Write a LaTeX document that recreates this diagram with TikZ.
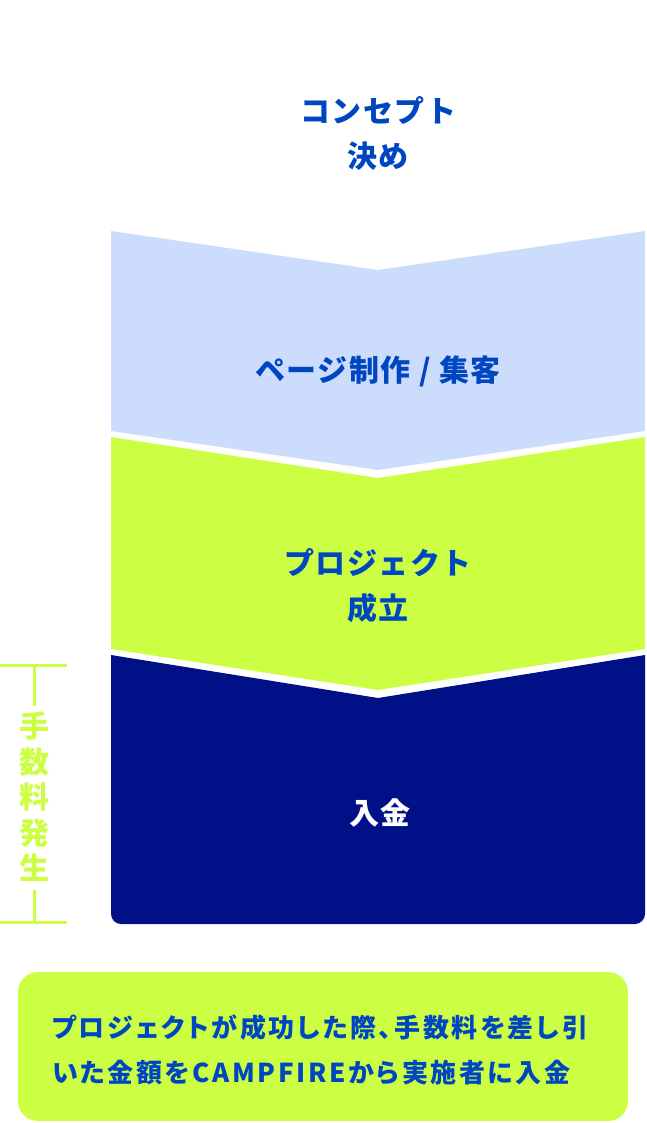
\documentclass[tikz,border=0pt]{standalone}
\usepackage{fontspec}
\usepackage{xcolor}
\usetikzlibrary{positioning}
\newfontfamily\jpfont{Noto Sans CJK JP}[LetterSpace=5]
\newfontfamily\notefont{Noto Sans CJK JP}[LetterSpace=10, RawFeature=+palt]
\definecolor{stepblue}{RGB}{204,220,253}
\definecolor{steplime}{RGB}{204,255,68}
\definecolor{stepnavy}{RGB}{0,17,136}
\definecolor{textblue}{RGB}{0,70,192}

\begin{document}
\begin{tikzpicture}[
    x=1pt, y=-1pt,
    label/.style={align=center, text=textblue, font=\jpfont\bfseries\fontsize{30}{45}\selectfont, inner sep=0pt},
    note/.style={align=left, text=textblue, font=\notefont\bfseries\fontsize{26}{45}\selectfont, inner sep=0pt},
    bracket/.style={draw=steplime, line width=3pt}
]
    \useasboundingbox (0,0) rectangle (646,1123);

    % Blocks
    \fill[stepblue] (111,231) -- (378,270) -- (645,231) -- (645,431) -- (378,470) -- (111,431) -- cycle;
    \fill[steplime] (111,437) -- (378,478) -- (645,437) -- (645,649) -- (378,690) -- (111,649) -- cycle;
    \fill[stepnavy] (111,655) -- (378,698) -- (645,655) -- (645,800) [rounded corners=10pt]
        -- (645,924) -- (111,924) -- (111,800) [sharp corners] -- cycle;

    % Labels
    \node[label] (concept) at (378,133) {コンセプト\\決め};
    \node[label] (page) at (378,371) {ページ制作 / 集客};
    \node[label] (success) at (378,586) {プロジェクト\\成立};
    \node[label, text=white] (payment) at (380,813) {入金};

    % Fee bracket
    \node[label, text=steplime, font=\jpfont\bfseries\fontsize{30}{35.5}\selectfont] (fee) at (34,797) {手\\数\\料\\発\\生};
    \coordinate (feetop) at (34,665);
    \coordinate (feebottom) at (34,922);
    \draw[bracket] (0,665) -- (67,665);
    \draw[bracket] (feetop) -- ([yshift=6pt]fee.north);
    \draw[bracket] ([yshift=-8pt]fee.south) -- (feebottom);
    \draw[bracket] (0,922) -- (67,922);

    % Note
    \fill[steplime, rounded corners=20pt] (18,972) rectangle (628,1121);
    \node[note, anchor=west] (summary) at (52,1050) {プロジェクトが成功した際、手数料を差し引\\いた金額をCAMPFIREから実施者に入金};
\end{tikzpicture}
\end{document}
